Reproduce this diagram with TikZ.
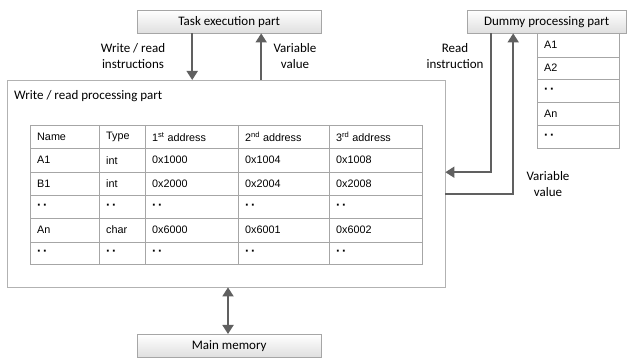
\documentclass[tikz,border=0pt]{standalone}
\usepackage{fontspec}
\setmainfont{Carlito}
\newfontfamily\tabfont{Liberation Sans}
\usetikzlibrary{positioning,arrows.meta,calc}

\newcommand\dd{{\fontsize{13}{13}\selectfont\textbf{·}\hspace{1.5pt}\textbf{·}}}

\tikzset{
  box/.style={draw=gray!70, top color=white, bottom color=gray!25,
    minimum width=184pt, minimum height=23pt, inner sep=0pt, anchor=north west},
  flow/.style={draw=gray!75!black, line width=1.8pt, -{Triangle[length=9pt,width=11pt]}},
  lbl/.style={align=center},
  cell/.style={anchor=west, inner sep=0pt, font=\tabfont\fontsize{10.8}{12}\selectfont},
}

\begin{document}
\begin{tikzpicture}[x=1pt,y=-1pt,font=\fontsize{13}{15.5}\selectfont]
\useasboundingbox (0,0) rectangle (627,358);
% boxes
\node[box] (task) at (137,10) {Task execution part};
\node[box, minimum width=159pt] (dummy) at (467,10) {Dummy processing part};
\node[box] (mem) at (137,334) {Main memory};
\node[draw=gray!60, minimum width=438pt, minimum height=207pt, anchor=north west, inner sep=0pt] (rw) at (7,80) {};
\node[anchor=west, inner sep=0pt] (rwtitle) at (14,96) {Write / read processing part};

% table
\draw[gray!70] (30,125) rectangle (422,264);
\foreach \y in {148,172,195,218,242} \draw[gray!70] (30,\y) -- (422,\y);
\foreach \x in {99,145,238,329} \draw[gray!70] (\x,125) -- (\x,264);
\foreach \t [count=\i] in {Name,Type,1\textsuperscript{st} address,2\textsuperscript{nd} address,3\textsuperscript{rd} address}
  \node[cell] (h\i) at ({\i==1?37:(\i==2?106:(\i==3?152:(\i==4?245:336)))},137) {\t};
\foreach \a/\b/\c/\d/\e [count=\r] in {A1/int/0x1000/0x1004/0x1008,
    B1/int/0x2000/0x2004/0x2008, \dd/\dd/\dd/\dd/\dd,
    An/char/0x6000/0x6001/0x6002, \dd/\dd/\dd/\dd/\dd}{
  \pgfmathsetmacro\ym{137+23.2*\r}
  \node[cell] (c\r a) at (37,\ym) {\a};
  \node[cell] (c\r b) at (106,\ym) {\b};
  \node[cell] (c\r c) at (152,\ym) {\c};
  \node[cell] (c\r d) at (245,\ym) {\d};
  \node[cell] (c\r e) at (336,\ym) {\e};
}

% dummy list
\draw[gray!70] (537,33) rectangle (619,148);
\foreach \y in {57,79,102,125} \draw[gray!70] (537,\y) -- (619,\y);
\foreach \t [count=\i] in {A1,A2,\dd,An,\dd}
  \node[cell] (d\i) at (544,{45+23*(\i-1)}) {\t};

% arrows
\draw[flow] ([xshift=-37pt]task.south) -- ([xshift=-37pt]task.south |- rw.north);
\draw[flow] ([xshift=32pt]task.south |- rw.north) -- ([xshift=32pt]task.south);
\draw[flow] ([xshift=-55.5pt]dummy.south) |- ([yshift=11.5pt]rw.east);
\draw[flow] ([yshift=-10.5pt]rw.east) -| ([xshift=-33.5pt]dummy.south);
\draw[flow, {Triangle[length=9pt,width=11pt]}-{Triangle[length=9pt,width=11pt]}] (mem.north -| 228,0) -- (rw.south -| 228,0);

% labels
\node[lbl] (wrlbl) at (133,56) {Write / read\\instructions};
\node[lbl] (vvlbl) at (295,56) {Variable\\value};
\node[lbl] (rilbl) at (455,56) {Read\\instruction};
\node[lbl] (vv2lbl) at (548,184) {Variable\\value};
\end{tikzpicture}
\end{document}
